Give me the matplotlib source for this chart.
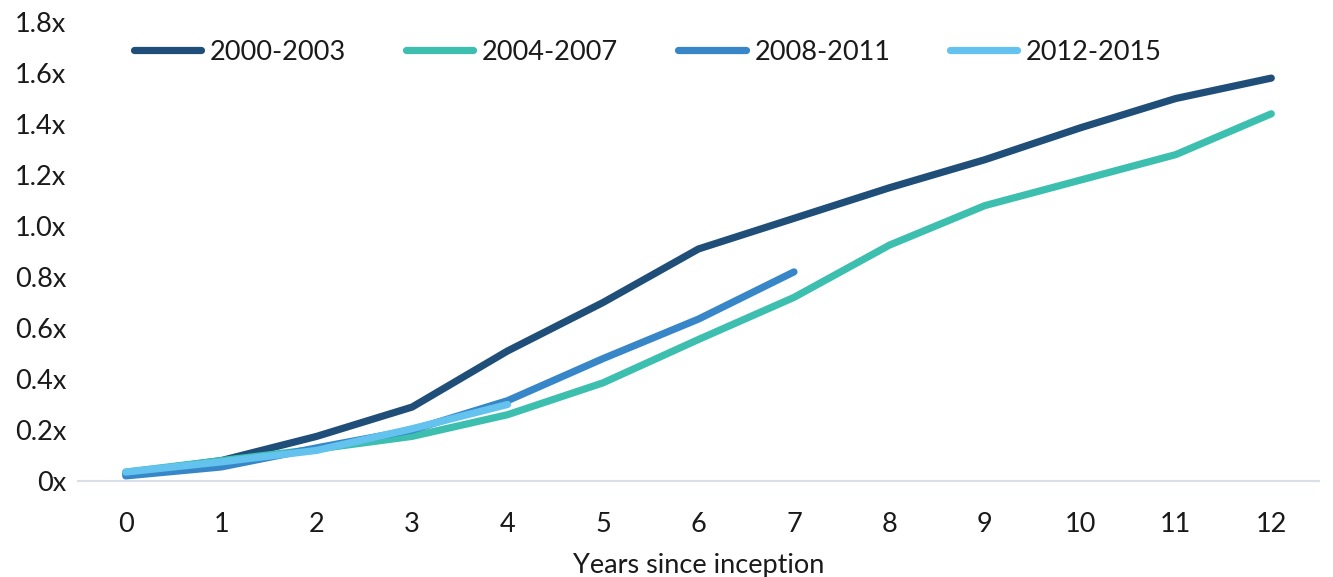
import matplotlib
matplotlib.use("Agg")
import matplotlib.pyplot as plt
from matplotlib.ticker import FuncFormatter

plt.rcParams['font.family'] = ['Lato', 'DejaVu Sans']

years = list(range(13))

series_2000_2003 = [0.03, 0.08, 0.175, 0.29, 0.51, 0.70, 0.91, 1.03, 1.15, 1.26, 1.385, 1.50, 1.58]
series_2004_2007 = [0.035, 0.08, 0.125, 0.175, 0.26, 0.385, 0.555, 0.72, 0.925, 1.08, 1.18, 1.28, 1.44]
series_2008_2011 = [0.02, 0.055, 0.13, 0.20, 0.315, 0.48, 0.635, 0.82]
series_2012_2015 = [0.035, 0.075, 0.12, 0.205, 0.30]

labels = ["2000-2003", "2004-2007", "2008-2011", "2012-2015"]
colors = ["#1F4E79", "#3DBFB0", "#3787C8", "#63C3EE"]

y_ticks = [0, 0.2, 0.4, 0.6, 0.8, 1.0, 1.2, 1.4, 1.6, 1.8]

text_color = "#1A1A1A"

fig = plt.figure(figsize=(13.33, 5.77), dpi=100)
ax = fig.add_axes([78 / 1333, 1 - 481 / 577, (1319 - 78) / 1333, (481 - 22) / 577])

all_series = [series_2000_2003, series_2004_2007, series_2008_2011, series_2012_2015]
for vals, lab, col in zip(all_series, labels, colors):
    ax.plot(years[:len(vals)], vals, color=col, lw=5.2, label=lab,
            solid_capstyle='round', solid_joinstyle='miter')

ax.set_xlim(-0.5, 12.5)
ax.set_ylim(0, 1.8)
ax.set_xticks(years)
ax.set_yticks(y_ticks)


def fmt(v, _):
    if abs(v) < 1e-9:
        return "0x"
    return f"{v:.1f}x"


ax.yaxis.set_major_formatter(FuncFormatter(fmt))
ax.tick_params(axis='both', length=0, labelsize=19.5, labelcolor=text_color)
ax.tick_params(axis='x', pad=22)
ax.tick_params(axis='y', pad=8.5)

for s in ["top", "right", "left"]:
    ax.spines[s].set_visible(False)
ax.spines["bottom"].set_color("#D9DEE8")
ax.spines["bottom"].set_linewidth(1.5)

ax.set_xlabel("Years since inception", fontsize=19.5, color=text_color, labelpad=12)

leg = ax.legend(loc='upper left', bbox_to_anchor=(0.036, 0.985), ncol=4, frameon=False,
                fontsize=19.5, handlelength=2.5, handletextpad=0.32, columnspacing=2.2,
                borderaxespad=0)
for t in leg.get_texts():
    t.set_color(text_color)
for h in leg.get_lines():
    h.set_solid_capstyle('round')

fig.savefig("out.png", dpi=100)
